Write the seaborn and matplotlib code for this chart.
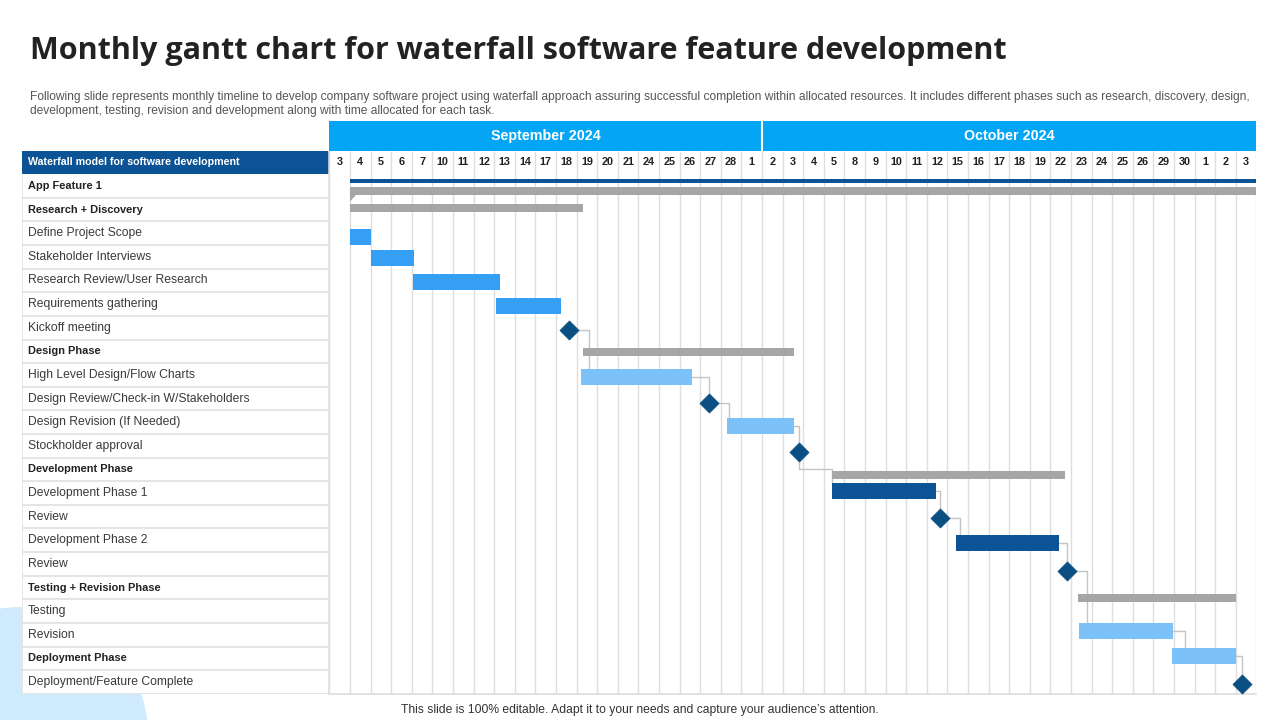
import numpy as np
import pandas as pd
import matplotlib
matplotlib.use("Agg")
import matplotlib.pyplot as plt
import seaborn as sns
from matplotlib.patches import Circle, Polygon, Rectangle

# ---------------- data ----------------
title = "Monthly gantt chart for waterfall software feature development"
subtitle = ("Following slide represents monthly timeline to develop company software project using waterfall approach assuring "
            "successful completion within allocated resources. It includes different phases such as research, discovery, design,\n"
            "development, testing, revision and development along with time allocated for each task.")
footer = "This slide is 100% editable. Adapt it to your needs and capture your audience\u2019s attention."
table_header = "Waterfall model for software development"

months = ["September 2024", "October 2024"]
sep_days = [3, 4, 5, 6, 7, 10, 11, 12, 13, 14, 17, 18, 19, 20, 21, 24, 25, 26, 27, 28, 1]
oct_days = [2, 3, 4, 5, 8, 9, 10, 11, 12, 15, 16, 17, 18, 19, 22, 23, 24, 25, 26, 29, 30, 1, 2, 3]

row_labels = ["App Feature 1", "Research + Discovery", "Define Project Scope", "Stakeholder Interviews",
              "Research Review/User Research", "Requirements gathering", "Kickoff meeting", "Design Phase",
              "High Level Design/Flow Charts", "Design Review/Check-in W/Stakeholders", "Design Revision (If Needed)",
              "Stockholder approval", "Development Phase", "Development Phase 1", "Review", "Development Phase 2",
              "Review", "Testing + Revision Phase", "Testing", "Revision", "Deployment Phase",
              "Deployment/Feature Complete"]
row_bold = [True, True, False, False, False, False, False, True, False, False, False, False, True,
            False, False, False, False, True, False, False, True, False]

# bars (start / end in date-column units, row position)
bar_task = ["App Feature 1", "App Feature 1", "Research + Discovery", "Define Project Scope",
            "Stakeholder Interviews", "Research Review/User Research", "Requirements gathering",
            "Design Phase", "High Level Design/Flow Charts", "Design Revision (If Needed)",
            "Development Phase", "Development Phase 1", "Development Phase 2",
            "Testing + Revision Phase", "Testing", "Revision"]
bar_row = [-0.21, 0.21, 0.93, 2.16, 3.05, 4.06, 5.08, 7.03, 8.09, 10.16, 12.24, 12.91, 15.10, 17.44, 18.84, 19.90]
bar_start = [1.0, 1.0, 1.0, 1.0, 2.0, 4.05, 8.1, 12.3, 12.2, 19.3, 24.4, 24.4, 30.4, 36.35, 36.4, 40.9]
bar_end = [45.0, 45.0, 12.3, 2.0, 4.1, 8.3, 11.25, 22.55, 17.6, 22.55, 35.7, 29.45, 35.4, 44.0, 40.95, 44.0]
bar_kind = ["line", "summary", "summary", "task", "task", "task", "task", "summary", "light", "light",
            "summary", "dev", "dev", "summary", "light", "light"]

# milestones
ms_task = ["Kickoff meeting", "Design Review/Check-in W/Stakeholders", "Stockholder approval",
           "Review", "Review", "Deployment/Feature Complete"]
ms_row = [6.10, 9.19, 11.26, 14.06, 16.30, 21.08]
ms_day = [11.65, 18.45, 22.8, 29.65, 35.8, 44.3]

# dependency chain (kind, index)
chain = [("ms", 0), ("bar", 8), ("ms", 1), ("bar", 9), ("ms", 2), ("bar", 11), ("ms", 3),
         ("bar", 12), ("ms", 4), ("bar", 14), ("bar", 15), ("ms", 5)]

# ---------------- style ----------------
sns.set_theme(style="white")
plt.rcParams["font.family"] = ["Liberation Sans", "DejaVu Sans"]

kind_color = {"line": "#0b5394", "summary": "#a6a6a6", "task": "#359ef5", "light": "#7cc1f7", "dev": "#0b5394"}
kind_height = {"line": 0.18, "summary": 0.36, "task": 0.68, "light": 0.68, "dev": 0.68}
NAVY = "#0b5394"
MONTH_BLUE = "#05a5f5"
GRID = "#dedede"
DIAMOND = "#0b4f82"
CONN = "#c4c4c4"

W, H = 1280, 720
def frac(x0, y0, x1, y1):
    return [x0 / W, 1 - y1 / H, (x1 - x0) / W, (y1 - y0) / H]

fig = plt.figure(figsize=(12.8, 7.2), dpi=100)
fig.patch.set_facecolor("white")

# background layer
bg = fig.add_axes([0, 0, 1, 1], zorder=0)
bg.set_xlim(0, W); bg.set_ylim(H, 0); bg.axis("off")
bg.add_patch(Circle((20, 735), 128, color="#cfeafc", lw=0))
bg.text(30, 51, title, fontsize=22, fontweight="bold", color="#222222", va="center", ha="left",
        family=["Open Sans", "DejaVu Sans"])
bg.text(30, 104, subtitle, fontsize=8.65, color="#555555", va="center", ha="left", linespacing=1.12)
bg.text(640, 710, footer, fontsize=8.7, color="#333333", va="center", ha="center")

n_cols = len(sep_days) + len(oct_days)
n_rows = len(row_labels)
YTOP, YBOT = -1.5, n_rows - 0.5

# ---------------- table ----------------
tab = fig.add_axes(frac(22, 150.6, 329.4, 693.8), zorder=1)
tab.set_xlim(0, 1); tab.set_ylim(YBOT, YTOP); tab.axis("off")
tab.add_patch(Rectangle((0, YTOP), 1, 1, color=NAVY, lw=0))
tab.text(0.02, -1, table_header, color="white", fontweight="bold", fontsize=7.7, va="center", ha="left")
tab.add_patch(Rectangle((0, -0.5), 1, n_rows, facecolor="white", lw=0))
for r, (lab, b) in enumerate(zip(row_labels, row_bold)):
    tab.text(0.02, r, lab, fontsize=7.9 if b else 8.7, va="center", ha="left",
             color="#222222" if b else "#3a3a3a", fontweight="bold" if b else "normal")
    tab.plot([0, 1], [r + 0.5, r + 0.5], color=GRID, lw=1.1)
tab.plot([0, 0], [-0.5, YBOT], color=GRID, lw=1.1)
tab.plot([1, 1], [YTOP, YBOT], color=GRID, lw=1.1)

# ---------------- month header ----------------
mx = fig.add_axes(frac(329.4, 121, 1256.4, 150.6), zorder=1)
mx.set_xlim(0, n_cols); mx.set_ylim(1, 0); mx.axis("off")
edges = np.cumsum([0, len(sep_days), len(oct_days)])
for m, (a, b) in enumerate(zip(edges[:-1], edges[1:])):
    mx.add_patch(Rectangle((a, 0), b - a, 1, color=MONTH_BLUE, lw=0))
    mx.text((a + b) / 2, 0.5, months[m], color="white", fontweight="bold", fontsize=10.3,
            ha="center", va="center")
mx.plot([edges[1], edges[1]], [0, 1], color="white", lw=1.5)

# ---------------- gantt ----------------
gx = fig.add_axes(frac(329.4, 150.6, 1256.4, 693.8), zorder=1)
gx.set_xlim(0, n_cols); gx.set_ylim(YBOT, YTOP)
gx.set_facecolor("white")
for s in ["top", "right", "left"]:
    gx.spines[s].set_visible(False)
gx.spines["bottom"].set_color(GRID)
gx.set_xticks([]); gx.set_yticks([])
gx.vlines(np.arange(n_cols + 1), YTOP, YBOT, color=GRID, lw=1, zorder=0)

day_labels = [str(d) for d in sep_days + oct_days]
for i, d in enumerate(day_labels):
    gx.text(i + 0.5, -1, d, fontsize=7.8, fontweight="bold", ha="center", va="center", color="#222222")

df = pd.DataFrame({"task": bar_task, "row": bar_row, "start": bar_start, "end": bar_end, "kind": bar_kind})
df["height"] = df["kind"].map(kind_height)
df["color"] = df["kind"].map(kind_color)
gx.barh(df["row"], df["end"] - df["start"], left=df["start"], height=df["height"],
        color=df["color"], lw=0, zorder=2)

# summary cap on the project bar
first = df[df["kind"] == "summary"].iloc[0]
bot = first["row"] + first["height"] / 2
gx.add_patch(Polygon([[first["start"], bot - 0.02], [first["start"] + 0.3, bot - 0.02],
                      [first["start"], bot + 0.26]], closed=True, color=kind_color["summary"], lw=0, zorder=2))

ms = pd.DataFrame({"task": ms_task, "row": ms_row, "day": ms_day})
sns.scatterplot(data=ms, x="day", y="row", marker="D", s=95, color=DIAMOND, edgecolor=DIAMOND,
                linewidth=0.5, ax=gx, zorder=4, legend=False)
gx.set_xlabel(""); gx.set_ylabel("")
gx.set_xlim(0, n_cols); gx.set_ylim(YBOT, YTOP)
gx.set_xticks([]); gx.set_yticks([])

# dependency connectors
MS_HW, MS_HH = 0.36, 0.32
def geom(item):
    k, i = item
    if k == "ms":
        return dict(ms=True, x0=ms_day[i] - MS_HW, x1=ms_day[i] + MS_HW, xc=ms_day[i], y=ms_row[i], hh=MS_HH)
    return dict(ms=False, x0=bar_start[i], x1=bar_end[i], xc=bar_start[i], y=bar_row[i],
                hh=kind_height[bar_kind[i]] / 2)

for a, b in zip(chain[:-1], chain[1:]):
    p, q = geom(a), geom(b)
    top = q["y"] - q["hh"]
    if q["ms"]:
        xs = [p["x1"], q["xc"], q["xc"]]
        ys = [p["y"], p["y"], top]
    elif q["x0"] - p["x1"] > 1:
        mid = np.ceil(p["y"] + p["hh"])
        xs = [p["xc"], p["xc"], q["x0"], q["x0"]]
        ys = [p["y"] + p["hh"], mid, mid, top]
    else:
        xt = max(q["x0"] + 0.1, p["x1"] + 0.6)
        xs = [p["x1"], xt, xt]
        ys = [p["y"], p["y"], top]
    gx.plot(xs, ys, color=CONN, lw=1, zorder=1)

fig.savefig("out.png", dpi=100)
